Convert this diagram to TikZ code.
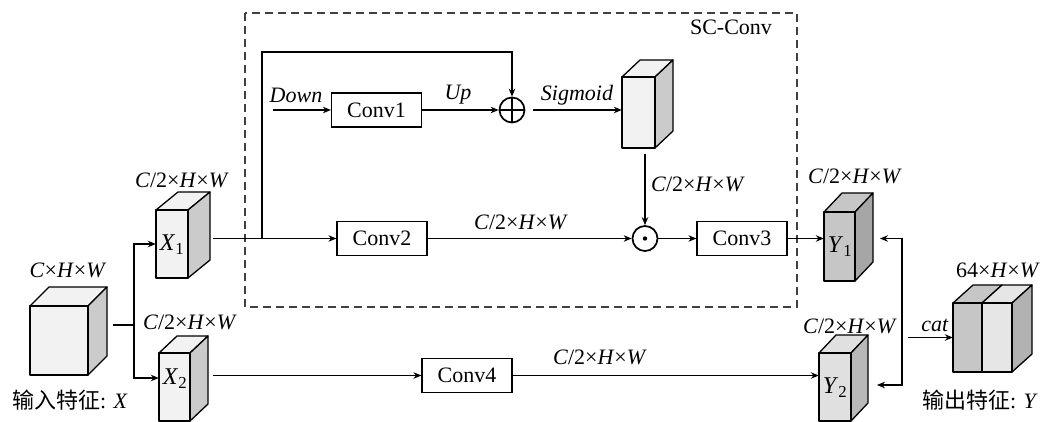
\documentclass[tikz,border=0pt]{standalone}
\usepackage{fontspec}
\setmainfont{Liberation Serif}
\newfontfamily\cjk{Noto Sans CJK SC}
\usetikzlibrary{arrows.meta,fit,calc}
\definecolor{frontA}{HTML}{F2F2F2}
\definecolor{sideA}{HTML}{CBCBCB}
\definecolor{frontY}{HTML}{C6C6C6}
\definecolor{sideY}{HTML}{A6A6A6}
\definecolor{frontYb}{HTML}{E0E0E0}
\definecolor{sideYb}{HTML}{B8B8B8}
\definecolor{outL}{HTML}{C6C6C6}
\definecolor{outR}{HTML}{E6E6E6}
\definecolor{outS}{HTML}{B2B2B2}
% name, x1, y1, x2, y2, dx, dy, front, side
\newcommand\cuboid[9]{%
  \filldraw[fill=#8,cubeline] (#2,#3) -- (#2+#6,#3-#7) -- (#4+#6,#3-#7) -- (#4,#3) -- cycle;
  \filldraw[fill=#9,cubeline] (#4,#3) -- (#4+#6,#3-#7) -- (#4+#6,#5-#7) -- (#4,#5) -- cycle;
  \filldraw[fill=#8,cubeline] (#2,#3) rectangle (#4,#5);
  \node[fit={(#2,#3)(#4,#5)},inner sep=0pt] (#1) {};
}
\newcommand\dimlab{\textit{C}/2×\textit{H}×\textit{W}}
\begin{document}
\begin{tikzpicture}[x=1pt,y=-1pt,
  every node/.style={font=\fontsize{22}{26}\selectfont},
  cubeline/.style={line width=1.3pt,line join=round},
  conn/.style={line width=1.3pt},
  arr/.style={line width=1.3pt,-{Stealth[length=8pt,width=6.5pt]}},
  convbox/.style={draw,line width=1.2pt,minimum width=90pt,minimum height=34pt,inner sep=0pt,fill=white},
  opcirc/.style={draw,circle,line width=1.7pt,minimum size=25pt,inner sep=0pt},
  cubelab/.style={font=\fontsize{24}{28}\selectfont}]
\useasboundingbox (0,0) rectangle (1047,422);

% SC-Conv dashed frame
\draw[dash pattern=on 8pt off 5pt,line width=1.1pt,black!75] (245,13) rectangle (797,307);
\node (sclab) at (731,27) {SC-Conv};

% cuboids
\cuboid{IN}{30}{306}{88}{375}{19}{19}{frontA}{sideA}
\cuboid{X1}{156}{210}{188}{278}{22}{18}{frontA}{sideA}
\cuboid{X2}{159}{353}{190}{421}{18}{17}{frontA}{sideA}
\cuboid{SIG}{622}{77}{655}{148}{18}{17}{frontA}{sideA}
\cuboid{Y1}{824}{212}{855}{281}{18}{19}{frontY}{sideY}
\cuboid{Y2}{819}{353}{851}{421}{17}{18}{frontYb}{sideYb}

% output cuboid (two halves)
\filldraw[fill=outL,cubeline] (953,303) -- (973,285) -- (1002,285) -- (982,303) -- cycle;
\filldraw[fill=outR,cubeline] (982,303) -- (1002,285) -- (1032,285) -- (1012,303) -- cycle;
\filldraw[fill=outS,cubeline] (1012,303) -- (1032,285) -- (1032,354) -- (1012,372) -- cycle;
\filldraw[fill=outL,cubeline] (953,303) rectangle (982,372);
\filldraw[fill=outR,cubeline] (982,303) rectangle (1012,372);
\node[fit={(953,303)(1012,372)},inner sep=0pt] (OUT) {};

% cube labels
\node[cubelab] (x1t) at (172,245) {\textit{X}\textsubscript{1}};
\node[cubelab] (x2t) at (175,379) {\textit{X}\textsubscript{2}};
\node[cubelab] (y1t) at (840,247) {\textit{Y}\textsubscript{1}};
\node[cubelab] (y2t) at (835,388) {\textit{Y}\textsubscript{2}};

% operation boxes
\node[convbox] (C1) at (376.5,110) {Conv1};
\node[convbox] (C2) at (382,238.5) {Conv2};
\node[convbox] (C3) at (742,238.5) {Conv3};
\node[convbox] (C4) at (467,375.5) {Conv4};
\node[opcirc] (plus) at (512,110) {};
\draw[line width=1.7pt] (plus.north) -- (plus.south) (plus.west) -- (plus.east);
\node[opcirc] (dot) at (645,238.5) {};
\fill (dot.center) circle (2.2pt);

% coordinates for free ends
\coordinate (inout) at (113,325);
\coordinate (split) at (134,325);
\coordinate (x1out) at (213,238.5);
\coordinate (junc) at (262,238.5);
\coordinate (looptop) at (262,52);
\coordinate (downin) at (273,110);
\coordinate (sigin) at (533,110);
\coordinate (sigout) at (645,154);
\coordinate (x2out) at (213,375.5);
\coordinate (rtop) at (902,238.5);
\coordinate (rbot) at (902,385);
\coordinate (y1in) at (880,238.5);
\coordinate (y2in) at (877,385);
\coordinate (catin) at (908,337.5);

% connectors
\draw[conn] (inout) -- (split);
\draw[arr] (split) |- (X1.west);
\draw[arr] (split) |- ($(X2.west)+(0,-9)$);
\draw[arr] (x1out) -- (C2.west);
\draw[arr] (junc) -- (looptop) -| (plus.north);
\draw[arr] (downin) -- (C1.west);
\draw[arr] (C1.east) -- (plus.west);
\draw[arr] (sigin) -- (sigin -| SIG.west);
\draw[arr] (sigout) -- (dot.north);
\draw[arr] (C2.east) -- (dot.west);
\draw[arr] (dot.east) -- (C3.west);
\draw[arr] (C3.east) -- (C3.east -| Y1.west);
\draw[arr] (x2out) -- (C4.west);
\draw[arr] (C4.east) -- (C4.east -| Y2.west);
\draw[arr] (rtop) -- (y1in);
\draw[arr] (rtop) -- (rbot) -- (y2in);
\draw[arr] (catin) -- (OUT.west);

% labels
\node (ldown) at (296,95) {\textit{Down}};
\node (lup) at (458,95) {\textit{Up}};
\node (lsig) at (577,95) {\textit{Sigmoid}};
\node[anchor=west,inner sep=0pt] (lsd) at (651,184) {\dimlab};
\node (lc2) at (521,222) {\dimlab};
\node (lx1) at (182,180) {\dimlab};
\node (lin) at (68,270) {\textit{C}×\textit{H}×\textit{W}};
\node[anchor=west,inner sep=0pt] (lx2) at (143,322) {\dimlab};
\node (linx) at (70,400) {{\cjk 输入特征}: \textit{X}};
\node (lc4) at (600,357) {\dimlab};
\node (ly1) at (855,176) {\dimlab};
\node (ly2) at (850,326) {\dimlab};
\node (lcat) at (935,325) {\textit{cat}};
\node (lout) at (998,270) {64×\textit{H}×\textit{W}};
\node (louty) at (980,400) {{\cjk 输出特征}: \textit{Y}};
\end{tikzpicture}
\end{document}
